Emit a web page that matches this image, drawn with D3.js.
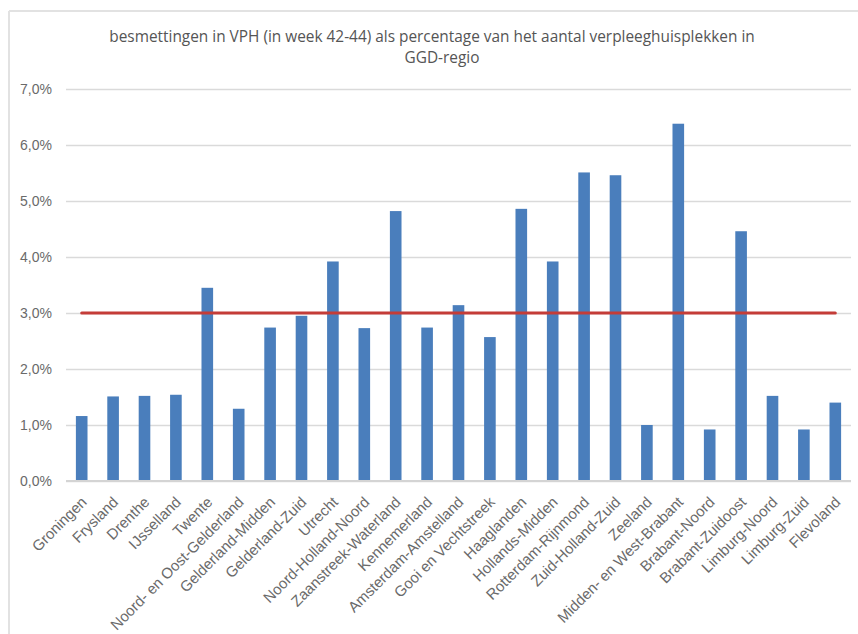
<!DOCTYPE html>
<html>
<head>
<meta charset="utf-8">
<script src="https://cdn.jsdelivr.net/npm/d3@7"></script>
<style>
  html, body { margin: 0; padding: 0; background: #ffffff; }
  svg { display: block; font-family: "Open Sans", "Lato", sans-serif; }
</style>
</head>
<body>
<svg id="chart" width="858" height="634"></svg>
<script>
// GGD regions, in display order
const regions = [
  "Groningen", "Frysland", "Drenthe", "IJsselland", "Twente",
  "Noord- en Oost-Gelderland", "Gelderland-Midden", "Gelderland-Zuid", "Utrecht",
  "Noord-Holland-Noord", "Zaanstreek-Waterland", "Kennemerland", "Amsterdam-Amstelland",
  "Gooi en Vechtstreek", "Haaglanden", "Hollands-Midden", "Rotterdam-Rijnmond",
  "Zuid-Holland-Zuid", "Zeeland", "Midden- en West-Brabant", "Brabant-Noord",
  "Brabant-Zuidoost", "Limburg-Noord", "Limburg-Zuid", "Flevoland"
];

// infections in nursing homes (weeks 42-44) as % of nursing-home places
const infectionPct = [
  1.16, 1.51, 1.52, 1.54, 3.45,
  1.29, 2.74, 2.95, 3.92,
  2.73, 4.82, 2.74, 3.14,
  2.57, 4.86, 3.92, 5.51,
  5.46, 1.00, 6.38, 0.92,
  4.46, 1.52, 0.92, 1.40
];

// reference level drawn across all regions
const referencePct = regions.map(() => 3.0);

const yTicks = [0, 1, 2, 3, 4, 5, 6, 7];

const titleLines = [
  "besmettingen in VPH (in week 42-44) als percentage van het aantal verpleeghuisplekken in",
  "GGD-regio"
];

const svg = d3.select("#chart");
const W = 858, H = 634;
const plot = { left: 66, right: 851, top: 89, bottom: 481 };

// outer chart frame (top and left edges)
svg.append("line").attr("x1", 9).attr("x2", W).attr("y1", 11).attr("y2", 11)
  .attr("stroke", "#e2e2e2").attr("stroke-width", 2);
svg.append("line").attr("x1", 9).attr("x2", 9).attr("y1", 11).attr("y2", H)
  .attr("stroke", "#e2e2e2").attr("stroke-width", 2);

const x = d3.scaleBand().domain(regions).range([plot.left, plot.right])
  .paddingInner(0.63).paddingOuter(0.315);
const y = d3.scaleLinear().domain([0, 7]).range([plot.bottom, plot.top]);

const fmt = v => d3.format(".1f")(v).replace(".", ",") + "%";

// gridlines + y labels
const yAxis = d3.axisLeft(y).tickValues(yTicks).tickFormat(fmt)
  .tickSize(-(plot.right - plot.left)).tickPadding(14);
const gy = svg.append("g").attr("transform", `translate(${plot.left},0)`).call(yAxis);
gy.select(".domain").remove();
gy.selectAll(".tick line").attr("stroke", "#dadada").attr("stroke-width", 1.5);
gy.selectAll(".tick text").attr("fill", "#6a6a6a").attr("font-size", 14);

// bars
const barColor = "#4a7ebc";
svg.append("g").selectAll("rect").data(regions).join("rect")
  .attr("x", d => x(d))
  .attr("width", x.bandwidth())
  .attr("y", (d, i) => y(infectionPct[i]))
  .attr("height", (d, i) => y(0) - y(infectionPct[i]))
  .attr("fill", barColor);

// category axis
const xAxis = d3.axisBottom(x).tickSize(0).tickPadding(0);
const gx = svg.append("g").attr("transform", `translate(0,${plot.bottom})`).call(xAxis);
gx.select(".domain").attr("stroke", "#d4d4d4").attr("stroke-width", 2)
  .attr("d", `M${plot.left},0H${plot.right}`);
gx.selectAll(".tick text")
  .attr("fill", "#6a6a6a").attr("font-size", 15)
  .attr("text-anchor", "end")
  .attr("dy", 0)
  .attr("transform", "translate(6,22) rotate(-45)");

// reference line
const line = d3.line()
  .x((d, i) => x(regions[i]) + x.bandwidth() / 2)
  .y(d => y(d));
svg.append("path").datum(referencePct)
  .attr("d", line)
  .attr("fill", "none")
  .attr("stroke", "#c43c38")
  .attr("stroke-width", 3)
  .attr("stroke-linecap", "round");

// title
svg.append("g").selectAll("text").data(titleLines).join("text")
  .attr("x", (d, i) => i === 0 ? 432 : 442)
  .attr("y", (d, i) => 42 + i * 21)
  .attr("text-anchor", "middle")
  .attr("fill", "#555555")
  .attr("font-size", 15.4)
  .text(d => d);
</script>
</body>
</html>
